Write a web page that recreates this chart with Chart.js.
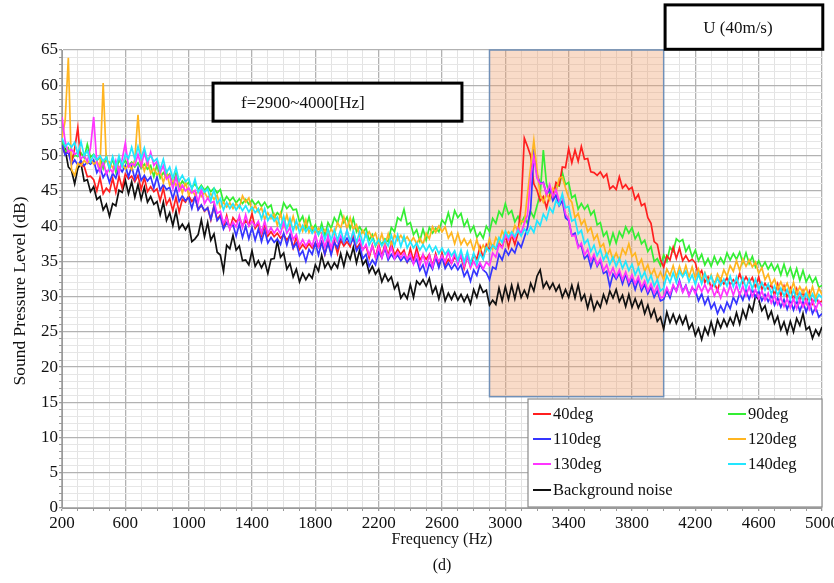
<!DOCTYPE html>
<html><head><meta charset="utf-8">
<script src="https://cdn.jsdelivr.net/npm/chart.js@4.4.1/dist/chart.umd.min.js"></script>
<style>html,body{margin:0;padding:0;background:#fff}#wrap{width:834px;height:583px}</style>
</head><body><div id="wrap"><canvas id="c" width="834" height="583"></canvas></div>
<script>
const FONT = "'Liberation Serif','Times New Roman',serif";

// sampling grid of the spectra (Hz)
const freqStart = 200, freqStep = 20, freqEnd = 5000;
const frequencies = [];
for (let f = freqStart; f <= freqEnd; f += freqStep) frequencies.push(f);

const xTickLabels = [200, 600, 1000, 1400, 1800, 2200, 2600, 3000, 3400, 3800, 4200, 4600, 5000];
const yTickLabels = [0, 5, 10, 15, 20, 25, 30, 35, 40, 45, 50, 55, 60, 65];

const seriesNames = ['40deg', '90deg', '110deg', '120deg', '130deg', '140deg', 'Background noise'];

const deg40 = [
51.5,50.2,50.6,49,51,54,48.6,48.5,47,47.1,
46.6,45,46.9,44.6,45.4,44.9,46.8,44.8,47.1,45.4,
47.4,46.7,47.1,46.3,47.2,45.2,46.9,44.9,45.6,44.9,
45.3,43.6,45.4,43.1,43.9,42.2,44.1,42,43.8,43.4,
44.3,43.5,44.1,42.4,43,42.1,42.6,40.9,42.9,40.9,
41.6,39.8,41.5,39.6,41.2,40.6,41.1,40.1,40.8,40.2,
41.8,39.7,40.4,38.7,40.3,38.6,39.2,38.5,39,38.3,
38.8,38,38.7,36.9,38.5,36.7,37.4,36.8,37.5,36.9,
37.6,37,37.7,36,37.8,36.2,37.9,36.1,38,37.2,
37.8,37.1,38.8,36.8,37.5,36.7,37.2,35.5,37.3,35.6,
37.4,35.7,37.5,35.8,37.6,35.9,36.7,36,36.6,35,
36.8,35.1,36.9,35.2,35.9,35.3,36,34.3,36.1,34.4,
36.2,34.5,35.3,34.7,35.6,35,35.7,34,35.8,34.2,
36,35.3,37.1,35.5,37.4,36.6,37.3,36.8,37.6,37,
38.7,37,38.8,37.4,39,43,52.5,51.3,50,46,
45.1,43.6,44.2,42.6,44.4,44,46.2,45.8,48.4,48.3,
51,49,50.8,49.2,51.3,49.5,49.6,47.7,47.6,47.2,
47.7,46.9,47.4,45.3,45.7,45.2,47,45.4,45.9,45.2,
45.5,43.8,44.5,42.9,43.2,41.2,40.4,37.8,37.4,35.2,
34.2,35.8,35.2,37,35.4,36.9,35.1,35.8,35,35.3,
34.8,33,33.7,32,32.8,31.2,32,30.8,32.5,31.8,
32.7,31.7,32.4,31.8,33.3,31.9,32.8,32,32.7,31.3,
32.8,31,31.9,31.1,31.7,30.2,31.8,30.1,31.5,29.8,
31.2,29.6,31.1,29.3,30.8,29.1,30.7,29,29.9,29.1,
29.4];

const deg90 = [
52,50.6,51.1,49.4,50.1,49.9,50.4,49.7,51.6,49.8,
50.2,49.3,49.8,48.2,50,48,49.6,47.7,49.4,48.7,
49.3,48.6,49.1,48.4,49,48.2,48.8,48.1,48.6,47,
48.7,46.8,47.6,46.9,47.4,45.8,47.5,45.6,46.4,45.8,
46.2,45.5,46,45.2,45.8,45.1,45.6,44.9,45.4,44.7,
45.2,43.4,44.2,43.6,44.1,43.3,43.9,43.2,43.8,43.1,
43.7,43,43.5,42.8,43.4,42.6,43,41.2,41.9,41.4,
43.3,42.5,43,42.3,42.4,40.6,41.4,39.7,41.3,39.4,
40.2,38.8,40.4,38.6,40.5,39.7,41.2,40.4,42.1,40.5,
41.3,39.6,41.1,39.2,39.9,39.1,39.7,38,38.8,37.2,
38.1,37.4,38.2,37.8,39.8,39.2,41.2,40.8,42.4,40.2,
40.5,38.8,39.5,37.9,39.6,38,39.8,39,39.7,39.2,
40.9,40.3,41.9,40.2,42.2,41.2,41.8,40,40.9,39.2,
40,38.4,39.1,38.3,40,39.2,41.1,40.4,42.1,41.4,
43.2,41.7,42.2,40.6,41.4,40.4,41.3,40.4,42.1,41.2,
42.9,44.5,50.8,46,44.6,44.2,45.8,45.7,47.6,45.9,
46.2,44,44.4,42.4,43.2,42.4,43,41.6,42.2,40.2,
40.5,38.6,39.2,37.4,39,37.6,39.2,38.4,39.9,39,
39.8,38.2,39,37.5,38,36.4,37.1,35,35.4,34.4,
35.9,35,37,36.4,38.2,37.8,38.1,36.4,37.2,35.6,
36.6,35.1,36,34.5,35.4,34.3,35.7,34.6,35.5,34.7,
36.2,35.2,36.1,35.3,36.3,34.8,36.2,34.7,35.7,34.2,
35.1,34.1,34.9,33.9,34.7,33.7,34.5,33.1,34.6,33,
34.1,32.6,34,32.3,33.7,32.1,33,32,32.7,31.3,
31.6];

const deg110 = [
51.5,50.1,50.6,48.7,49.4,48.7,49.3,48.6,49.1,48.8,
49.4,47.6,48.4,46.9,47.7,46.2,47.5,46.8,48.4,47.7,
48.6,47,48.5,46.7,48.3,46.5,47.2,46.4,47,45.4,
47,45.1,45.9,45.2,45.5,43.9,45.5,43.5,44.3,43.6,
44.1,42.5,44.2,42.3,43,42.2,42.6,41,42.8,40.8,
41.4,39.6,40.5,39.8,40.2,38.6,40.3,38.4,40,38.2,
39.8,38,39.6,37.8,39.4,37.6,38.4,37.7,38.2,37.4,
39,37.3,38.8,36.9,37.6,35.8,36.5,35,36.7,36,
37.6,35.9,37.7,36,37.6,35.9,37.7,36.9,38.5,37.6,
38.3,37.5,38.2,36.5,37.2,35.4,36,34.3,35.2,34.5,
36.3,35.5,36.9,35.2,36,35.3,35.9,35.1,35.7,34.9,
35.5,34.7,35.3,33.7,34.5,33,34.7,33.9,35.6,34.1,
35.7,34,34.8,33.9,34.6,33.8,34.5,32.9,33.7,32.2,
33.8,33,34.6,33.8,33.4,32.4,34.2,33.9,36,35.2,
36.7,35.9,36.8,36.2,37.7,37,38.4,39.8,42.5,50.2,
47.4,46,46.2,44.5,45.3,43.6,44.4,42.9,43.6,41.2,
40.8,38.7,39,37.2,37.2,35.4,35.9,34.2,35.7,34.3,
35.1,33.3,33.6,31.4,33.2,32.5,33.3,31.8,33.2,31.6,
32.5,31,32.5,30.8,31.7,30.4,31.3,29.9,30.8,29.4,
29.6,30.8,29.8,31.5,30.8,32.3,30.7,31.6,30.2,31.2,
30.9,29.4,30.4,28.9,29.9,28.3,29.1,27.6,28.7,27.8,
29.2,28.3,29.9,29,30.5,29.5,30.9,29.6,31,29.9,
30.8,29.4,30.3,29.3,30.2,28.8,29.8,28.5,29.6,28.2,
29.5,28.1,29.4,27.9,29.3,27.8,29.2,27.6,28.5,27.1,
27.6];

const deg120 = [
52.5,55,63.9,48,47.2,48.9,48.6,49.3,48.9,49.5,
48.8,49.2,48.4,60.3,49.2,49.1,48.3,48.9,48.2,48.8,
48.1,48.7,48,49.5,55.8,49.3,47.8,49.4,47.5,48.2,
47.3,47.8,46.2,47.7,45.8,46.6,45.8,46.3,44.7,46.3,
44.4,45.2,44.4,45,44.2,44.8,44,44.6,43.8,44.4,
42.6,43.4,42.7,43.3,42.5,43.2,42.6,44.3,43.4,44,
42.2,42.9,42,42.6,41,41.9,41.1,41.7,40.1,41.8,
40,41.6,39.8,41.4,39.6,40.4,39.3,40.9,39.1,39.9,
39,39.7,38.9,39.5,38.7,39.6,38.8,40.5,39.7,41.3,
39.6,41.2,39.5,40.2,38.6,39.4,38.5,39.2,38.3,39,
37.5,38.9,37.3,38.9,37.2,38.8,38,38.7,37.9,38.5,
37.7,38.4,37.5,38.3,37.4,39,38.2,39.9,39.1,40,
39.2,39.9,38.3,39.1,37.5,39,37.4,38.2,37.3,38,
36.5,38.1,36.4,37.3,36.5,38.2,36.8,38.4,37.7,39.3,
38.4,39.2,38.6,40.1,39.3,40.8,40.5,44.5,48.5,52.2,
48,44.5,43.4,44.6,43.7,45.4,44.8,46.8,47,45.4,
44,43.4,41.2,41.8,40.2,40.9,39.2,39.8,38.1,38.8,
37,37.5,35.7,36.7,35.2,36.2,35.1,36.8,36,37.5,
35.7,36.2,34.4,35.3,33.6,34.5,33,33.9,32.5,33.5,
32.4,33.9,33,34.4,32.8,34.3,32.9,34.4,32.8,34.2,
32.6,33.9,32.4,33.4,32,33.1,31.7,33.2,32.3,33.8,
32.9,34.4,33.6,35.1,33.7,35.3,34.3,35.2,34.2,34.9,
33.3,34.1,32.4,33.2,31.7,32.5,31.1,32.1,31,31.9,
30.6,32,30.4,31.4,30.5,31.3,29.9,31.4,29.8,31.2,
30.3];

const deg130 = [
55.5,52,50.5,50.9,50.2,50.5,49.6,50,49.2,51.1,
55.5,49,47.7,49.2,47.4,48.2,47.6,49.3,47.5,49.5,
51.8,48.4,48.9,48.6,50.2,48.5,50.4,48.8,50.5,48.6,
49.2,47.6,48.6,46.7,47.2,45.3,47,45,45.8,45,
45.4,44.7,45.1,43.4,45.2,43.2,44,43.3,43.5,41.8,
42.1,40.4,41.2,39.6,40.6,39.9,41.5,39.8,41.6,40,
40.7,40,40.7,39.1,40.7,39,39.8,39,39.7,38.9,
40.5,39,39.8,38.1,38.8,37.2,38.1,37.2,38,37.2,
38.8,37.1,38.7,37,38.6,36.9,38.5,37.7,38.6,37.8,
39.4,37.8,39.2,37.5,38.2,36.6,37.4,35.9,37.2,35.5,
37.1,35.5,37.2,35.6,37,35.4,36.3,35.5,36.2,35.3,
36,34.6,36.1,34.4,36,34.3,35.9,34.2,35.8,35,
35.8,34.9,36.4,34.7,36.2,34.5,36,34.3,35.8,34.1,
35,34.1,34.8,33.9,34.9,34.4,36.2,35.6,37.4,36.9,
38.8,38,38.9,38.2,39.7,39,40.4,41.6,47,49.8,
46.8,46,46.1,44.5,45.9,44.2,45.2,43.5,44.3,41.7,
41,38.6,38.7,36.9,37.6,35.9,36.7,35.1,36,34.5,
35.4,33.7,34.5,33.1,34.1,32.8,33.8,32.4,33.5,32.1,
33.1,31.8,32.8,31.3,32.2,30.8,31.8,30.5,31.5,29.8,
30,31.3,30.3,31.7,30.7,32.1,30.6,31.5,30.1,31.4,
30.4,31.7,30.7,31.7,30.6,31.5,30.1,31.1,29.8,31.2,
30.2,31.6,30.2,31.6,30.2,31.5,30.1,31.4,30,31,
29.7,30.8,29.5,30.5,29.1,30.2,28.9,29.9,28.6,29.7,
28.4,29.7,28.3,29.6,28.5,29.5,28.2,29.5,28.1,29.4,
28.6];

const deg140 = [
52.5,51.3,51.8,51.2,51.9,50.2,52,50,50.7,49.1,
50.1,49.4,50,49.2,49.8,48.2,49.9,48.3,50,48.4,
50.2,49.6,51.2,49.5,51.3,49.6,51.1,49.3,50,49.2,
49.6,48,49.5,47.6,48.4,46.8,48.3,46.4,47.2,46.3,
46.8,45.2,46.7,44.8,45.6,44.8,45.3,43.6,45.2,43.2,
43.9,42.3,43.4,42.5,43.2,42.3,43,42.2,42.9,42,
42.7,41.9,42.5,41,42.5,40.8,41.6,40.7,41.3,39.8,
41.4,39.6,41.1,39.3,40.8,39.1,40.1,39.2,39.9,39,
39.7,38.8,39.7,38.1,39.6,38,39.5,38,39.5,37.9,
39.4,37.8,39.3,37.7,39.2,37.5,39,37.3,38.2,37.3,
38.1,37.2,38,37.2,38.7,37.2,38.8,37.1,38.6,36.9,
37.8,36.9,37.6,36.6,37.4,36.5,37.3,36.4,37.1,36.1,
36.9,36,36.7,35.8,36.5,35.1,36.6,34.9,36.4,34.7,
36.2,34.6,36.1,35.3,37,36.4,37.3,36.8,38.4,37.7,
39.3,38.4,39.2,38.5,39.4,38.6,39.6,38.9,39.9,39.1,
40.8,40.1,41.7,40.9,42.6,41.9,43.6,43,44.6,42.6,
42.8,40.7,41,38.9,39.4,37.5,38.1,36.4,37.3,35.8,
36.7,35.2,36.1,34.6,35.6,34.3,35.4,34,35,33.7,
34.6,33.1,34.1,32.6,33.5,32,33,31.5,32.4,30.8,
31.2,33,32,33.4,32,33.6,32.8,33.6,32.1,33.1,
31.7,33.2,31.8,33.3,31.9,32.9,31.5,32.6,31.6,32.5,
31.5,32.9,31.4,32.8,31.3,32.7,31.2,32.5,31.1,32.5,
31,32,30.9,31.8,30.4,31.5,30.2,31.2,30.1,31,
29.6,30.9,29.5,30.6,29.5,30.5,29.4,30.4,29.3,30.3,
29.8];

const background = [
52,50.9,48.4,47.9,46,48.2,48.9,46.4,46.6,44.9,
45.6,43.8,44.2,42.3,43.1,41.4,43.2,42.9,45.1,44.8,
46.5,44.6,46.3,44.1,45.9,43.8,45.5,43.4,44.2,43.1,
43.5,41.6,43.4,40.8,41.9,40.1,42.1,39.6,40.3,39.5,
40.3,37.8,38.2,38.8,40.9,38.5,40.5,38,38.9,36.3,
35.9,33.6,37.3,36.8,38.7,36.6,37.2,35.1,35.2,34.5,
36.5,34.3,35.1,34.1,35,33.3,35.3,35.4,37.9,35.6,
36.2,33.9,34.7,32.8,33.9,32.1,33.3,32.4,33.2,32.6,
34.5,33.6,35.9,34.1,34.9,33.9,34.8,34.1,36.1,34.3,
36.3,35.3,37,34.8,36.6,34.5,35.2,33.4,34.3,33.2,
33.9,32.1,33.2,32.2,32.8,31.1,31.9,29.8,30.5,29.7,
31.7,29.9,32.2,31.7,32.4,31.5,32.6,30.5,31.4,29.7,
31.5,29.4,30.5,29.6,30.6,29.5,30.3,29.3,30.2,29,
31,29.9,31.6,30.6,30.9,28.8,29.5,28.9,31.2,29.4,
31.4,29.6,31.6,29.7,31.7,29.9,30.9,29.9,31.9,30.8,
32.9,33.8,31.3,32.1,31.1,31.9,30.8,31.6,29.9,31,
29.9,31.6,29.8,31.7,29.5,30.3,28.4,30.1,28.1,29.3,
28.5,30.3,29.1,30.8,29.8,31,29.3,30.2,28.6,30.3,
28.5,29.7,28.4,29.4,27.6,28.8,27.1,28.2,26.5,27.1,
25.4,27.8,26.3,27.5,26.2,27.3,26.1,27.2,25.4,26.2,
24.5,25.5,23.9,25.6,24.6,26.4,24.7,26.7,25.6,26.8,
25.8,27,26,27.7,26.1,28.1,26.9,28.8,27.9,30.1,
29.6,28,28.7,26.9,27.9,26.2,27.2,25.3,26.4,24.8,
26.5,25,26.9,25.9,27.6,25.3,25.7,24.1,25.3,24.5,
25.7];

const seriesValues = [deg40, deg90, deg110, deg120, deg130, deg140, background];
const seriesColors = ['#ff1f1f', '#33ee33', '#3535ff', '#ffb520', '#ff35ff', '#22e6ff', '#111111'];
const drawOrder = [5, 6, 4, 3, 2, 1, 7];

// highlighted band and annotations (data units)
const bandRange = [2900, 4000];
const bandFloor = 15.8;
const freqBox = {x0: 1154, x1: 2726, y0: 60.3, y1: 54.9, text: 'f=2900~4000[Hz]'};
const speedBox = {x0: 4009, x1: 5005, y0: 71.4, y1: 65.1, text: 'U (40m/s)'};
const yTitle = 'Sound Pressure Level (dB)';

const xGrid = []; for (let v = 200; v <= 5000; v += 100) xGrid.push(v);
const yGrid = []; for (let v = 0; v <= 65; v += 1) yGrid.push(v);

const overlay = {
  id: 'overlay',
  beforeDatasetsDraw(chart) {
    const {ctx, scales: {x, y}} = chart;
    const x0 = x.getPixelForValue(bandRange[0]), x1 = x.getPixelForValue(bandRange[1]);
    const y0 = y.getPixelForValue(65), y1 = y.getPixelForValue(bandFloor);
    ctx.save();
    ctx.fillStyle = 'rgba(240,160,110,0.38)';
    ctx.fillRect(x0, y0, x1 - x0, y1 - y0);
    ctx.strokeStyle = '#7090b8';
    ctx.lineWidth = 1.5;
    ctx.strokeRect(x0, y0, x1 - x0, y1 - y0);
    ctx.restore();
  },
  afterDraw(chart) {
    const {ctx, scales: {x, y}} = chart;
    ctx.save();
    // y axis title
    ctx.translate(20, 291);
    ctx.rotate(-Math.PI / 2);
    ctx.fillStyle = '#111';
    ctx.font = '17.5px ' + FONT;
    ctx.textAlign = 'center';
    ctx.textBaseline = 'middle';
    ctx.fillText(yTitle, 0, 0);
    ctx.setTransform(1, 0, 0, 1, 0, 0);
    // annotation boxes
    [freqBox, speedBox].forEach((b, i) => {
      const l = x.getPixelForValue(b.x0), r = x.getPixelForValue(b.x1);
      const t = y.getPixelForValue(b.y0), bt = y.getPixelForValue(b.y1);
      ctx.fillStyle = '#fff';
      ctx.fillRect(l, t, r - l, bt - t);
      ctx.strokeStyle = '#000';
      ctx.lineWidth = 3;
      ctx.strokeRect(l, t, r - l, bt - t);
      ctx.fillStyle = '#111';
      ctx.font = '17px ' + FONT;
      ctx.textBaseline = 'middle';
      if (i === 0) { ctx.textAlign = 'left'; ctx.fillText(b.text, l + 28, (t + bt) / 2 + 1); }
      else { ctx.textAlign = 'center'; ctx.fillText(b.text, (l + r) / 2 - 6, (t + bt) / 2 + 1); }
    });
    // legend
    const L = {left: 528, top: 399, right: 822, bottom: 507};
    const rows = [414, 439, 464, 490];
    const cols = [{lx: 533, tx: 553}, {lx: 728, tx: 748}];
    const slots = [[0, 0], [1, 0], [0, 1], [1, 1], [0, 2], [1, 2], [0, 3]];
    ctx.fillStyle = '#fff';
    ctx.fillRect(L.left, L.top, L.right - L.left, L.bottom - L.top);
    ctx.strokeStyle = '#8a8a8a';
    ctx.lineWidth = 1.2;
    ctx.strokeRect(L.left, L.top, L.right - L.left, L.bottom - L.top);
    chart.data.datasets.forEach((ds, i) => {
      const [c, r] = slots[i];
      const yy = rows[r];
      ctx.strokeStyle = ds.borderColor;
      ctx.lineWidth = 2;
      ctx.beginPath();
      ctx.moveTo(cols[c].lx, yy); ctx.lineTo(cols[c].lx + 18, yy);
      ctx.stroke();
      ctx.fillStyle = '#111';
      ctx.font = '16.5px ' + FONT;
      ctx.textAlign = 'left';
      ctx.textBaseline = 'middle';
      ctx.fillText(ds.label, cols[c].tx, yy + 1);
    });
    ctx.restore();
  }
};

new Chart(document.getElementById('c'), {
  type: 'line',
  data: {
    datasets: seriesNames.map((name, i) => ({
      label: name,
      data: frequencies.map((f, k) => ({x: f, y: seriesValues[i][k]})),
      borderColor: seriesColors[i],
      backgroundColor: seriesColors[i],
      borderWidth: 1.7,
      pointRadius: 0,
      tension: 0,
      fill: false,
      order: drawOrder[i]
    }))
  },
  options: {
    responsive: false,
    animation: false,
    layout: {padding: {left: 0, right: 12, top: 50, bottom: 0}},
    plugins: {legend: {display: false}, tooltip: {enabled: false}},
    scales: {
      x: {
        type: 'linear', min: 200, max: 5000,
        afterBuildTicks: s => { s.ticks = xGrid.map(v => ({value: v})); },
        afterFit: s => { s.height = 75; s.paddingLeft = 0; s.paddingRight = 0; },
        ticks: {autoSkip: false, maxRotation: 0, padding: 2, color: '#111',
          font: {family: FONT, size: 17},
          callback: v => xTickLabels.includes(v) ? String(v) : ''},
        grid: {
          color: c => xTickLabels.includes(c.tick.value) ? '#b2b2b2' : '#e3e3e3',
          lineWidth: c => xTickLabels.includes(c.tick.value) ? 1.3 : 1,
          tickLength: 3, tickColor: '#999'
        },
        border: {color: '#9a9a9a', width: 1},
        title: {display: true, text: ['Frequency (Hz)', '(d)'], color: '#111',
          font: {family: FONT, size: 16, lineHeight: 1.625}, padding: {top: 0, bottom: 4}}
      },
      y: {
        type: 'linear', min: 0, max: 65,
        afterBuildTicks: s => { s.ticks = yGrid.map(v => ({value: v})); },
        afterFit: s => { s.width = 62; },
        ticks: {autoSkip: false, padding: 1, color: '#111',
          font: {family: FONT, size: 17},
          callback: v => yTickLabels.includes(v) ? String(v) : ''},
        grid: {
          color: c => yTickLabels.includes(c.tick.value) ? '#b2b2b2' : '#e6e6e6',
          lineWidth: c => yTickLabels.includes(c.tick.value) ? 1.3 : 1,
          tickLength: 3, tickColor: '#999'
        },
        border: {color: '#9a9a9a', width: 1},
        title: {display: false}
      }
    }
  },
  plugins: [overlay]
});
</script>
</body></html>
